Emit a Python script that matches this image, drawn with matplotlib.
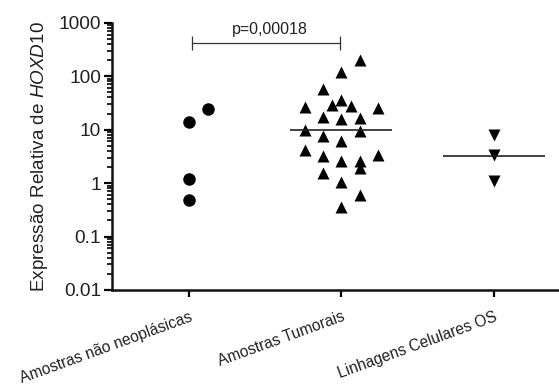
import matplotlib.pyplot as plt
import matplotlib.transforms as mtransforms
import numpy as np

plt.rcParams['font.family'] = ['Liberation Sans', 'DejaVu Sans']
plt.rcParams['mathtext.fontset'] = 'custom'
plt.rcParams['mathtext.rm'] = 'Liberation Sans'
plt.rcParams['mathtext.it'] = 'Liberation Sans:italic'

categories = ['Amostras não neoplásicas', 'Amostras Tumorais', 'Linhagens Celulares OS']

# values; columns = scatter column within each group
normal_vals = [24.5, 13.8, 1.19, 0.49]
normal_cols = [1, 0, 0, 0]

tumor_vals = [198, 119, 56.5, 26.8, 28.7, 35.6, 27.5, 25.6, 17.4, 15.9, 16.2,
              10.0, 9.6, 7.75, 6.06, 4.23, 3.17, 2.55, 2.63, 3.31, 1.92, 1.55,
              1.05, 0.60, 0.36]
tumor_cols = [1, 0, -1, -2, -0.5, 0, 0.5, 2, -1, 0, 1,
              -2, 1, -1, 0, -2, -1, 0, 1, 2, 1, -1,
              0, 1, 0]

cell_vals = [8.1, 3.41, 1.08]
cell_cols = [0, 0, 0]

tumor_median = 9.8
cell_median = 3.2
p_text = 'p=0,00018'

col_step = 0.121

fig = plt.figure(figsize=(5.59, 3.88), dpi=100)
ax = fig.add_axes([0.2004, 0.2526, 0.7996, 0.6889])

ax.plot(0 + np.array(normal_cols) * col_step, normal_vals, 'o', color='black',
        ms=9, mec='none', clip_on=False)
ax.plot(1 + np.array(tumor_cols) * col_step, tumor_vals, '^', color='black',
        ms=9.2, mec='none', clip_on=False)
ax.plot(2 + np.array(cell_cols) * col_step, cell_vals, 'v', color='black',
        ms=9.2, mec='none', clip_on=False)

ax.hlines([tumor_median, cell_median], [1 - 0.335, 2 - 0.335],
          [1 + 0.335, 2 + 0.335], color='#222222', lw=1.2)

# significance bracket
ax.plot([0.02, 0.99], [412, 412], color='#333333', lw=0.9)
ax.vlines([0.02, 0.99], 412 / 1.35, 412 * 1.35, color='#333333', lw=0.9)
ax.text(0.53, 740, p_text, ha='center', va='center', fontsize=11.5,
        color='#222222')

ax.set_yscale('log')
ax.set_ylim(0.01, 1000)
ax.set_xlim(-0.507, 2.43)
ax.set_yticks([0.01, 0.1, 1, 10, 100, 1000])
ax.set_yticklabels(['0.01', '0.1', '1', '10', '100', '1000'], fontsize=13.8,
                   color='#222222')
ax.yaxis.set_minor_locator(plt.LogLocator(base=10, subs=np.arange(2, 10)))
ax.yaxis.set_minor_formatter(plt.NullFormatter())
ax.set_xticks(range(len(categories)))
ax.set_xticklabels(categories, rotation=20, ha='right', va='top',
                   rotation_mode='anchor', fontsize=11.2, color='#222222')
shift = mtransforms.ScaledTranslation(4 / 100, 0, fig.dpi_scale_trans)
for lab in ax.get_xticklabels():
    lab.set_transform(lab.get_transform() + shift)

for s in ['top', 'right']:
    ax.spines[s].set_visible(False)
for s in ['left', 'bottom']:
    ax.spines[s].set_linewidth(1.8)
    ax.spines[s].set_color('#111111')

ax.tick_params(axis='y', which='major', length=6, width=1.6, direction='out', pad=2)
ax.tick_params(axis='y', which='minor', length=3.5, width=1.2, direction='out')
ax.tick_params(axis='x', which='major', length=5, width=1.6, direction='out', pad=9)

ax.set_ylabel(r'Expressão Relativa de $\mathit{HOXD10}$', fontsize=13.6,
              color='#222222', labelpad=6)

plt.savefig('out.png', dpi=100)
